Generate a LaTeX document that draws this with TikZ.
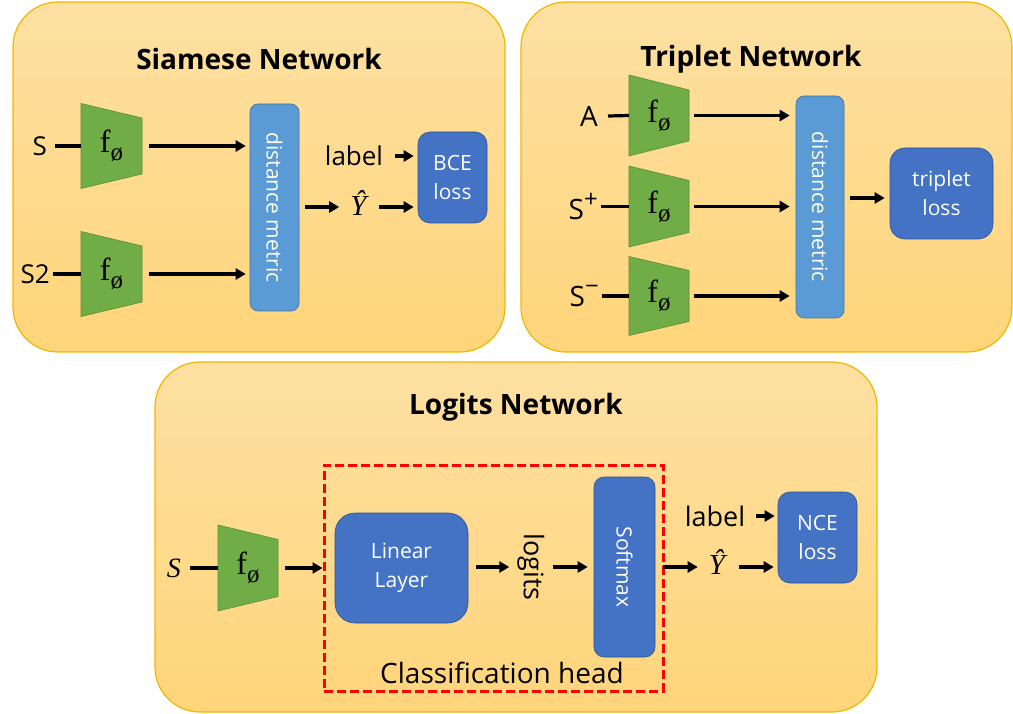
\documentclass[tikz,border=0pt]{standalone}
\usepackage{fontspec}
\setmainfont{Open Sans}
\newfontfamily\serifmath{Liberation Serif}
\usetikzlibrary{arrows.meta}
\definecolor{paneltop}{RGB}{253,224,162}
\definecolor{panelbot}{RGB}{255,213,122}
\definecolor{panelline}{RGB}{242,182,0}
\definecolor{trapgreen}{RGB}{112,173,71}
\definecolor{trapline}{RGB}{88,140,55}
\definecolor{dmblue}{RGB}{91,155,213}
\definecolor{dmline}{RGB}{65,113,156}
\definecolor{boxblue}{RGB}{68,114,196}
\definecolor{boxline}{RGB}{47,82,143}
\newcommand{\fz}[1]{\fontsize{#1}{#1}\selectfont}
\newcommand{\fphi}{{\serifmath\fz{32}f\raisebox{-0.25em}{\fz{25}ø}}}
\newcommand{\yhat}{{\serifmath\itshape\fz{29}Ŷ}}
\newcommand{\fblock}[6]{%
  \fill[trapgreen, draw=trapline, line width=0.6pt] (#2,#3-#5) -- (#2+#4,#3-#6) -- (#2+#4,#3+#6) -- (#2,#3+#5) -- cycle;
  \node[inner sep=0pt, minimum width=#4pt, minimum height=2*#6pt] (#1) at (#2+#4/2,#3) {\fphi};}
\begin{document}
\begin{tikzpicture}[x=1pt,y=-1pt,
  panel/.style={draw=panelline, line width=1.2pt, rounded corners=45pt, top color=paneltop, bottom color=panelbot, inner sep=0pt},
  paneltitle/.style={font=\fz{28}\bfseries},
  txtlab/.style={font=\fz{26}},
  conn/.style={line width=3.2pt},
  arr/.style={line width=3.2pt, -{Triangle[length=10pt,width=11pt]}},
  dmbox/.style={draw=dmline, fill=dmblue, rounded corners=8pt, text=white, font=\fz{21}, inner sep=0pt, line width=0.6pt},
  bluebox/.style={draw=boxline, fill=boxblue, text=white, font=\fontsize{21}{29}\selectfont, align=center, inner sep=0pt, line width=0.6pt}
]
\useasboundingbox (0,0) rectangle (1013,714);
% panels
\node[panel, minimum width=492pt, minimum height=350pt] (p1) at (259,177) {};
\node[panel, minimum width=491pt, minimum height=350pt] (p2) at (766.5,177) {};
\node[panel, minimum width=722pt, minimum height=350pt] (p3) at (516,537) {};
\node[paneltitle] (t1) at (259,59) {Siamese Network};
\node[paneltitle] (t2) at (751,59) {Triplet Network};
\node[paneltitle] (t3) at (516,407) {Logits Network};

% ---------- Siamese ----------
\fblock{s1f}{81}{146}{61}{42.5}{28}
\fblock{s2f}{81}{274}{61}{42.5}{28}
\node[txtlab, anchor=east, inner xsep=8pt, inner ysep=0pt] (s1in) at (55,146) {S};
\node[txtlab, anchor=east, inner xsep=3pt, inner ysep=0pt] (s2in) at (53,274) {S2};
\draw[conn] (s1in.east) -- (s1f.west);
\draw[conn] (s2in.east) -- (s2f.west);
\node[dmbox, minimum width=49pt, minimum height=207pt] (dm1) at (274.5,207.5) {\rotatebox{-90}{distance metric}};
\draw[arr, shorten <=7pt, shorten >=4pt] (s1f.east) -- (s1f.east -| dm1.west);
\draw[arr, shorten <=7pt, shorten >=4pt] (s2f.east) -- (s2f.east -| dm1.west);
\node[bluebox, minimum width=69pt, minimum height=91pt, rounded corners=12pt] (bce) at (452.5,177.5) {BCE\\loss};
\node[inner sep=0pt] (y1) at (358.5,203) {\yhat};
\draw[arr, shorten <=6pt, shorten >=11pt] (dm1.east |- 0,207) -- (y1.west |- 0,207);
\draw[arr, shorten <=12pt, shorten >=4pt] (y1.east |- 0,207) -- (bce.west |- 0,207);
\node[txtlab, inner sep=0pt, minimum width=82pt] (lab1) at (354,156) {label};
\draw[arr, shorten >=4pt] (lab1.east) -- (lab1.east -| bce.west);

% ---------- Triplet ----------
\fblock{ta}{629}{115.5}{60}{40.5}{25.5}
\fblock{tp}{629}{206.5}{60}{40.5}{26}
\fblock{tn}{629}{296}{60}{39.5}{25.5}
\node[font=\fz{28}, anchor=east, inner xsep=10pt, inner ysep=0pt] (ain) at (608,116) {A};
\node[font=\fz{28}, anchor=east, inner xsep=3pt, inner ysep=0pt] (pin) at (601,206.5) {S\raisebox{0.42em}{\fz{24}+}};
\node[font=\fz{28}, anchor=east, inner xsep=3pt, inner ysep=0pt] (nin) at (602,296) {S\raisebox{0.42em}{\fz{24}−}};
\draw[conn] (ain.east) -- (ta.west);
\draw[conn] (pin.east) -- (tp.west);
\draw[conn] (nin.east) -- (tn.west);
\node[dmbox, minimum width=48pt, minimum height=222pt] (dm2) at (820,207) {\rotatebox{-90}{distance metric}};
\draw[arr, shorten <=5pt, shorten >=6pt] (ta.east) -- (ta.east -| dm2.west);
\draw[arr, shorten <=5pt, shorten >=6pt] (tp.east) -- (tp.east -| dm2.west);
\draw[arr, shorten <=5pt, shorten >=6pt] (tn.east) -- (tn.east -| dm2.west);
\node[bluebox, minimum width=103pt, minimum height=91pt, rounded corners=15pt] (tl) at (941.5,193.5) {triplet\\loss};
\draw[arr, shorten <=6pt, shorten >=5pt] ([yshift=-4.5pt]tl.west -| dm2.east) -- ([yshift=-4.5pt]tl.west);

% ---------- Logits ----------
\fblock{lf}{218}{568}{60}{43}{28.5}
\node[font=\serifmath\itshape\fz{28}, anchor=east, inner xsep=9pt, inner ysep=0pt] (lin) at (190,568) {S};
\draw[conn] (lin.east) -- (lf.west);
\node[draw=red, line width=3pt, dash pattern=on 9pt off 4pt, minimum width=339pt, minimum height=226pt, inner sep=0pt] (cls) at (493.5,578) {};
\draw[arr, shorten <=7pt] (lf.east) -- (lf.east -| cls.west);
\node[bluebox, minimum width=133pt, minimum height=110pt, rounded corners=20pt] (ll) at (401.5,568) {Linear\\Layer};
\node[inner sep=0pt, minimum width=43pt, font=\fz{27}] (lg) at (531,567) {\rotatebox{-90}{logits}};
\node[bluebox, minimum width=61pt, minimum height=180pt, rounded corners=10pt] (sm) at (624.5,567) {\rotatebox{-90}{Softmax}};
\draw[arr, shorten <=8pt] (ll.east |- lg.west) -- (lg.west);
\draw[arr, shorten >=6pt] (lg.east) -- (lg.east -| sm.west);
\node[bluebox, minimum width=79pt, minimum height=91pt, rounded corners=12pt] (nce) at (817.5,537.5) {NCE\\loss};
\node[inner sep=0pt] (y3) at (717,562) {\yhat};
\draw[arr, shorten <=8pt, shorten >=11pt] (sm.east |- 0,567) -- (y3.west |- 0,567);
\draw[arr, shorten <=14pt, shorten >=4pt] (y3.east |- 0,567) -- (nce.west |- 0,567);
\node[txtlab, inner sep=0pt, minimum width=82pt, font=\fz{27}] (lab3) at (715,516) {label};
\draw[arr, shorten >=3pt] (lab3.east) -- (lab3.east -| nce.west);
\node[font=\fz{28}] (clh) at (502,673) {Classification head};
\end{tikzpicture}
\end{document}
